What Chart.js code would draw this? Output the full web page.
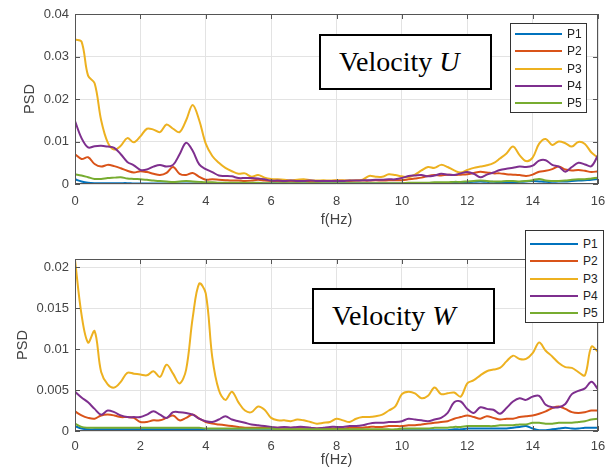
<!DOCTYPE html>
<html>
<head>
<meta charset="utf-8">
<script src="https://cdn.jsdelivr.net/npm/chart.js@4.4.0/dist/chart.umd.min.js"></script>
<style>
  html, body { margin: 0; padding: 0; background: #fff; }
  body { width: 606px; height: 472px; overflow: hidden; position: relative; }
  canvas { position: absolute; left: 0; }
  .leg { position: absolute; box-sizing: border-box; border: 1px solid #333; background: #fff;
         font: 12px "Liberation Sans", Arial, sans-serif; color: #222; z-index: 2; }
  .leg .row { position: absolute; left: 0; height: 16px; line-height: 16px; width: 100%; }
  .leg .ln { position: absolute; left: 4px; top: 7px; height: 0; border-top: 2px solid; }
  .leg .tx { position: absolute; }
  .tbox { position: absolute; box-sizing: border-box; border: 2px solid #000; background: #fff;
          font: 28px "Liberation Serif", "Times New Roman", serif; color: #000; z-index: 2;
          display: flex; align-items: center; padding-left: 18px; white-space: nowrap; }
</style>
</head>
<body>
<canvas id="chartU" width="606" height="236" style="top:0"></canvas>
<canvas id="chartW" width="606" height="236" style="top:236px"></canvas>

<div class="tbox" style="left:319px;top:34px;width:173px;height:56px">Velocity&nbsp;<i>U</i></div>
<div class="tbox" style="left:312px;top:288px;width:183px;height:56px">Velocity&nbsp;<i>W</i></div>
<div class="leg" id="legU" style="left:510px;top:23px;width:77px;height:90px"></div>
<div class="leg" id="legW" style="left:525px;top:230px;width:79px;height:93px"></div>

<script>
const freq = [
  0, 0.2, 0.4, 0.6, 0.8, 1, 1.2, 1.4, 1.6, 1.8,
  2, 2.2, 2.4, 2.6, 2.8, 3, 3.2, 3.4, 3.6, 3.8,
  4, 4.2, 4.4, 4.6, 4.8, 5, 5.2, 5.4, 5.6, 5.8,
  6, 6.2, 6.4, 6.6, 6.8, 7, 7.2, 7.4, 7.6, 7.8,
  8, 8.2, 8.4, 8.6, 8.8, 9, 9.2, 9.4, 9.6, 9.8,
  10, 10.2, 10.4, 10.6, 10.8, 11, 11.2, 11.4, 11.6, 11.8,
  12, 12.2, 12.4, 12.6, 12.8, 13, 13.2, 13.4, 13.6, 13.8,
  14, 14.2, 14.4, 14.6, 14.8, 15, 15.2, 15.4, 15.6, 15.8,
  16
];
const seriesNames = ['P1', 'P2', 'P3', 'P4', 'P5'];

// Velocity U
const uP1 = [
  0.0011, 0.0006, 0.0003, 0.0002, 0.0002, 0.0002, 0.0002, 0.0002, 0.0002, 0.0001,
  0.0001, 0.0001, 0.0001, 0.0001, 0.0001, 0.0001, 0.0001, 0.0001, 0.0001, 0.0001,
  0.0001, 0.0001, 0.0001, 0.0001, 0.0001, 0.0001, 0.0001, 0.0001, 0.0001, 0.0001,
  0.0001, 0.0001, 0.0001, 0.0001, 0.0001, 0.0001, 0.0001, 0.0001, 0.0001, 0.0001,
  0.0001, 0.0001, 0.0001, 0.0001, 0.0001, 0.0001, 0.0001, 0.0001, 0.0001, 0.0001,
  0.0001, 0.0001, 0.0001, 0.0001, 0.0001, 0.0002, 0.0002, 0.0002, 0.0003, 0.0003,
  0.0004, 0.0005, 0.0006, 0.0005, 0.0005, 0.0004, 0.0004, 0.0004, 0.0005, 0.0006,
  0.0007, 0.0006, 0.0005, 0.0005, 0.0006, 0.0006, 0.0007, 0.0008, 0.0009, 0.0010,
  0.0012
];
const uP2 = [
  0.0070, 0.0059, 0.0063, 0.0047, 0.0041, 0.0045, 0.0042, 0.0037, 0.0031, 0.0027,
  0.0030, 0.0028, 0.0024, 0.0021, 0.0026, 0.0040, 0.0024, 0.0021, 0.0026, 0.0017,
  0.0010, 0.0011, 0.0010, 0.0009, 0.0008, 0.0008, 0.0007, 0.0008, 0.0010, 0.0008,
  0.0007, 0.0007, 0.0006, 0.0007, 0.0006, 0.0007, 0.0006, 0.0006, 0.0007, 0.0007,
  0.0008, 0.0008, 0.0007, 0.0008, 0.0008, 0.0008, 0.0009, 0.0008, 0.0009, 0.0009,
  0.0009, 0.0011, 0.0013, 0.0015, 0.0019, 0.0021, 0.0020, 0.0022, 0.0021, 0.0022,
  0.0023, 0.0026, 0.0029, 0.0027, 0.0025, 0.0025, 0.0023, 0.0022, 0.0021, 0.0019,
  0.0022, 0.0029, 0.0031, 0.0035, 0.0041, 0.0034, 0.0032, 0.0033, 0.0031, 0.0028,
  0.0030
];
const uP3 = [
  0.0340, 0.0335, 0.0255, 0.0237, 0.0150, 0.0098, 0.0081, 0.0090, 0.0108, 0.0098,
  0.0112, 0.0130, 0.0128, 0.0122, 0.0140, 0.0130, 0.0122, 0.0150, 0.0186, 0.0150,
  0.0095, 0.0066, 0.0050, 0.0038, 0.0030, 0.0024, 0.0025, 0.0017, 0.0021, 0.0015,
  0.0012, 0.0011, 0.0010, 0.0009, 0.0010, 0.0011, 0.0009, 0.0008, 0.0009, 0.0008,
  0.0009, 0.0008, 0.0009, 0.0008, 0.0010, 0.0019, 0.0017, 0.0017, 0.0023, 0.0021,
  0.0018, 0.0016, 0.0022, 0.0032, 0.0040, 0.0038, 0.0045, 0.0040, 0.0032, 0.0027,
  0.0033, 0.0038, 0.0041, 0.0044, 0.0049, 0.0060, 0.0072, 0.0088, 0.0068, 0.0054,
  0.0062, 0.0095, 0.0106, 0.0092, 0.0100, 0.0096, 0.0088, 0.0099, 0.0094, 0.0074,
  0.0062
];
const uP4 = [
  0.0148, 0.0108, 0.0086, 0.0089, 0.0090, 0.0088, 0.0085, 0.0070, 0.0052, 0.0044,
  0.0033, 0.0034, 0.0041, 0.0045, 0.0041, 0.0045, 0.0070, 0.0097, 0.0078, 0.0046,
  0.0035, 0.0028, 0.0020, 0.0019, 0.0018, 0.0014, 0.0014, 0.0014, 0.0013, 0.0011,
  0.0008, 0.0008, 0.0007, 0.0008, 0.0007, 0.0007, 0.0008, 0.0007, 0.0007, 0.0007,
  0.0007, 0.0007, 0.0008, 0.0008, 0.0009, 0.0009, 0.0010, 0.0010, 0.0011, 0.0011,
  0.0014, 0.0019, 0.0020, 0.0021, 0.0018, 0.0020, 0.0024, 0.0022, 0.0021, 0.0025,
  0.0028, 0.0024, 0.0016, 0.0022, 0.0027, 0.0033, 0.0036, 0.0038, 0.0041, 0.0040,
  0.0043, 0.0055, 0.0056, 0.0045, 0.0041, 0.0029, 0.0040, 0.0050, 0.0046, 0.0042,
  0.0068
];
const uP5 = [
  0.0023, 0.0020, 0.0016, 0.0012, 0.0012, 0.0014, 0.0015, 0.0016, 0.0013, 0.0012,
  0.0011, 0.0010, 0.0008, 0.0007, 0.0006, 0.0005, 0.0006, 0.0007, 0.0006, 0.0005,
  0.0004, 0.0004, 0.0003, 0.0003, 0.0003, 0.0003, 0.0003, 0.0003, 0.0003, 0.0002,
  0.0002, 0.0002, 0.0002, 0.0002, 0.0002, 0.0002, 0.0002, 0.0002, 0.0002, 0.0002,
  0.0002, 0.0002, 0.0002, 0.0002, 0.0002, 0.0002, 0.0002, 0.0002, 0.0002, 0.0002,
  0.0002, 0.0003, 0.0003, 0.0003, 0.0003, 0.0004, 0.0004, 0.0004, 0.0005, 0.0005,
  0.0006, 0.0007, 0.0008, 0.0007, 0.0006, 0.0006, 0.0007, 0.0007, 0.0006, 0.0007,
  0.0009, 0.0012, 0.0008, 0.0007, 0.0007, 0.0008, 0.0010, 0.0011, 0.0011, 0.0013,
  0.0015
];

// Velocity W
const wP1 = [
  0.0006, 0.0003, 0.0002, 0.0002, 0.0002, 0.0002, 0.0002, 0.0002, 0.0002, 0.0002,
  0.0002, 0.0002, 0.0002, 0.0002, 0.0002, 0.0002, 0.0002, 0.0002, 0.0002, 0.0002,
  0.0001, 0.0001, 0.0001, 0.0001, 0.0001, 0.0001, 0.0001, 0.0001, 0.0001, 0.0001,
  0.0001, 0.0001, 0.0001, 0.0001, 0.0001, 0.0001, 0.0001, 0.0001, 0.0001, 0.0001,
  0.0001, 0.0001, 0.0001, 0.0001, 0.0001, 0.0001, 0.0001, 0.0001, 0.0001, 0.0001,
  0.0001, 0.0001, 0.0001, 0.0001, 0.0001, 0.0001, 0.0001, 0.0001, 0.0002, 0.0002,
  0.0003, 0.0003, 0.0003, 0.0003, 0.0003, 0.0003, 0.0003, 0.0004, 0.0005, 0.0006,
  0.0003, 0.0001, 0.0001, 0.0002, 0.0003, 0.0004, 0.0003, 0.0003, 0.0004, 0.0004,
  0.0004
];
const wP2 = [
  0.0024, 0.0019, 0.0016, 0.0015, 0.0019, 0.0020, 0.0019, 0.0017, 0.0017, 0.0016,
  0.0011, 0.0011, 0.0013, 0.0013, 0.0016, 0.0019, 0.0013, 0.0016, 0.0020, 0.0015,
  0.0011, 0.0009, 0.0008, 0.0007, 0.0006, 0.0005, 0.0004, 0.0004, 0.0004, 0.0004,
  0.0004, 0.0004, 0.0004, 0.0004, 0.0004, 0.0004, 0.0004, 0.0003, 0.0003, 0.0003,
  0.0003, 0.0003, 0.0004, 0.0004, 0.0004, 0.0005, 0.0005, 0.0005, 0.0006, 0.0006,
  0.0006, 0.0007, 0.0007, 0.0008, 0.0009, 0.0010, 0.0011, 0.0012, 0.0015, 0.0017,
  0.0019, 0.0017, 0.0015, 0.0018, 0.0016, 0.0014, 0.0015, 0.0015, 0.0017, 0.0018,
  0.0019, 0.0021, 0.0024, 0.0028, 0.0030, 0.0027, 0.0023, 0.0022, 0.0023, 0.0025,
  0.0025
];
const wP3 = [
  0.0209, 0.0142, 0.0108, 0.0122, 0.0072, 0.0057, 0.0053, 0.0060, 0.0071, 0.0070,
  0.0069, 0.0068, 0.0073, 0.0066, 0.0081, 0.0070, 0.0058, 0.0075, 0.0138, 0.0180,
  0.0168, 0.0090, 0.0050, 0.0038, 0.0048, 0.0035, 0.0025, 0.0023, 0.0030, 0.0026,
  0.0016, 0.0013, 0.0013, 0.0012, 0.0014, 0.0013, 0.0011, 0.0009, 0.0010, 0.0011,
  0.0015, 0.0013, 0.0011, 0.0015, 0.0017, 0.0017, 0.0018, 0.0020, 0.0025, 0.0030,
  0.0045, 0.0048, 0.0046, 0.0040, 0.0043, 0.0053, 0.0045, 0.0046, 0.0047, 0.0042,
  0.0058, 0.0062, 0.0068, 0.0073, 0.0075, 0.0077, 0.0085, 0.0092, 0.0088, 0.0088,
  0.0095, 0.0108, 0.0098, 0.0091, 0.0083, 0.0078, 0.0077, 0.0072, 0.0068, 0.0103,
  0.0097
];
const wP4 = [
  0.0048, 0.0041, 0.0035, 0.0027, 0.0020, 0.0025, 0.0023, 0.0019, 0.0017, 0.0017,
  0.0017, 0.0020, 0.0024, 0.0020, 0.0016, 0.0023, 0.0023, 0.0022, 0.0020, 0.0015,
  0.0012, 0.0011, 0.0014, 0.0018, 0.0014, 0.0012, 0.0010, 0.0008, 0.0007, 0.0006,
  0.0005, 0.0004, 0.0005, 0.0004, 0.0005, 0.0005, 0.0004, 0.0003, 0.0004, 0.0005,
  0.0005, 0.0005, 0.0006, 0.0006, 0.0007, 0.0009, 0.0010, 0.0010, 0.0011, 0.0011,
  0.0012, 0.0015, 0.0014, 0.0013, 0.0012, 0.0014, 0.0016, 0.0022, 0.0035, 0.0036,
  0.0027, 0.0022, 0.0029, 0.0027, 0.0026, 0.0021, 0.0028, 0.0036, 0.0040, 0.0038,
  0.0042, 0.0043, 0.0032, 0.0029, 0.0029, 0.0033, 0.0045, 0.0049, 0.0052, 0.0060,
  0.0051
];
const wP5 = [
  0.0009, 0.0005, 0.0004, 0.0004, 0.0004, 0.0004, 0.0004, 0.0004, 0.0004, 0.0004,
  0.0004, 0.0004, 0.0004, 0.0004, 0.0004, 0.0004, 0.0004, 0.0004, 0.0004, 0.0004,
  0.0003, 0.0003, 0.0003, 0.0003, 0.0003, 0.0003, 0.0003, 0.0003, 0.0003, 0.0003,
  0.0003, 0.0002, 0.0002, 0.0002, 0.0002, 0.0002, 0.0002, 0.0002, 0.0002, 0.0002,
  0.0002, 0.0002, 0.0002, 0.0002, 0.0002, 0.0002, 0.0002, 0.0002, 0.0002, 0.0002,
  0.0003, 0.0003, 0.0003, 0.0003, 0.0003, 0.0004, 0.0004, 0.0004, 0.0005, 0.0005,
  0.0006, 0.0006, 0.0006, 0.0006, 0.0006, 0.0007, 0.0007, 0.0007, 0.0008, 0.0008,
  0.0010, 0.0010, 0.0009, 0.0009, 0.0010, 0.0010, 0.0010, 0.0011, 0.0012, 0.0014,
  0.0015
];

const xTicks = [0, 2, 4, 6, 8, 10, 12, 14, 16];
const xLabels = ['0', '2', '4', '6', '8', '10', '12', '14', '16'];
const yTicksU = [0, 0.01, 0.02, 0.03, 0.04];
const yLabelsU = ['0', '0.01', '0.02', '0.03', '0.04'];
const yTicksW = [0, 0.005, 0.01, 0.015, 0.02];
const yLabelsW = ['0', '0.005', '0.01', '0.015', '0.02'];

const colors = ['#0072BD', '#D95319', '#EDB120', '#7E2F8E', '#77AC30'];
const axisColor = '#555';
const textColor = '#444';
const sans = '"Liberation Sans", Arial, sans-serif';

// matlab style box with inward ticks
const boxPlugin = {
  id: 'box',
  afterDatasetsDraw(chart) {
    const { ctx, chartArea: a, scales: { x, y } } = chart;
    ctx.save();
    ctx.strokeStyle = axisColor;
    ctx.lineWidth = 1;
    ctx.strokeRect(Math.round(a.left) + 0.5, Math.round(a.top) + 0.5,
                   Math.round(a.width) - 1, Math.round(a.height) - 1);
    ctx.beginPath();
    x.ticks.forEach(t => {
      const px = Math.round(x.getPixelForValue(t.value)) + 0.5;
      ctx.moveTo(px, a.bottom); ctx.lineTo(px, a.bottom - 5);
      ctx.moveTo(px, a.top); ctx.lineTo(px, a.top + 5);
    });
    y.ticks.forEach(t => {
      const py = Math.round(y.getPixelForValue(t.value)) + 0.5;
      ctx.moveTo(a.left, py); ctx.lineTo(a.left + 5, py);
      ctx.moveTo(a.right, py); ctx.lineTo(a.right - 5, py);
    });
    ctx.stroke();
    ctx.restore();
  }
};

function makeChart(id, series, yMax, yTicks, yLabels, opt) {
  const datasets = series.map((vals, i) => ({
    label: seriesNames[i],
    data: freq.map((f, k) => ({ x: f, y: vals[k] })),
    borderColor: colors[i],
    backgroundColor: colors[i],
    borderWidth: 2,
    pointRadius: 0,
    tension: 0.35,
    order: series.length - i
  }));
  return new Chart(document.getElementById(id), {
    type: 'line',
    data: { datasets },
    plugins: [boxPlugin],
    options: {
      responsive: false,
      animation: false,
      events: [],
      layout: { padding: { left: 0, right: 8, top: opt.top, bottom: opt.bottom } },
      plugins: { legend: { display: false }, tooltip: { enabled: false } },
      scales: {
        x: {
          type: 'linear', min: 0, max: 16,
          afterBuildTicks: s => { s.ticks = xTicks.map(v => ({ value: v })); },
          afterFit: s => { s.height = opt.xh; s.paddingLeft = 0; s.paddingRight = 0; },
          grid: { color: '#e3e3e3', drawTicks: false },
          border: { display: false },
          ticks: { padding: opt.xpad, color: textColor, font: { family: sans, size: 13 },
                   maxRotation: 0, callback: (v, i) => xLabels[i] },
          title: { display: true, text: 'f(Hz)', color: textColor, padding: 0,
                   font: { family: sans, size: 14.5 } }
        },
        y: {
          type: 'linear', min: 0, max: yMax,
          afterBuildTicks: s => { s.ticks = yTicks.map(v => ({ value: v })); },
          afterFit: s => { s.width = 75; },
          grid: { color: '#e3e3e3', drawTicks: false },
          border: { display: false },
          ticks: { padding: 6, color: textColor, font: { family: sans, size: 13 },
                   callback: (v, i) => yLabels[i] },
          title: { display: true, text: 'PSD', color: textColor,
                   padding: { top: opt.ytp, bottom: 0 },
                   font: { family: sans, size: 14.5 } }
        }
      }
    }
  });
}

makeChart('chartU', [uP1, uP2, uP3, uP4, uP5], 0.04, yTicksU, yLabelsU,
          { top: 14, bottom: 7, xh: 45, xpad: 10, ytp: 21 });
makeChart('chartW', [wP1, wP2, wP3, wP4, wP5], 0.021, yTicksW, yLabelsW,
          { top: 23, bottom: 3, xh: 38, xpad: 8, ytp: 14 });

function buildLegend(id, first, step, lineW) {
  const box = document.getElementById(id);
  seriesNames.forEach((name, i) => {
    const row = document.createElement('div');
    row.className = 'row';
    row.style.top = (first + i * step - 8) + 'px';
    const ln = document.createElement('span');
    ln.className = 'ln';
    ln.style.width = lineW + 'px';
    ln.style.borderColor = colors[i];
    const tx = document.createElement('span');
    tx.className = 'tx';
    tx.style.left = (lineW + 9) + 'px';
    tx.textContent = name;
    row.appendChild(ln);
    row.appendChild(tx);
    box.appendChild(row);
  });
}
buildLegend('legU', 10, 17.3, 47);
buildLegend('legW', 13, 17.3, 48);
</script>
</body>
</html>
